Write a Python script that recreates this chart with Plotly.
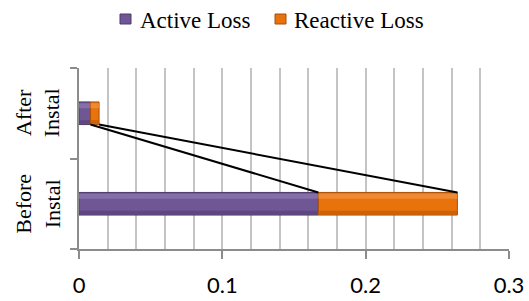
import plotly.graph_objects as go

categories = ["Before<br>Instal", "After<br>Instal"]
series_names = ["Active Loss", "Reactive Loss"]
active_loss = [0.167, 0.008]
reactive_loss = [0.097, 0.006]
x_ticks = [0, 0.1, 0.2, 0.3]
x_tick_labels = ["0", "0.1", "0.2", "0.3"]

ypos = [0, 1]
bw = 0.25
# (main, top highlight, bottom shade, outline)
purple = ("#6f5694", "#9580b6", "#5a4479", "#4e3a6b")
orange = ("#e8720c", "#f39a4c", "#c45f08", "#a9500a")

# plot area in pixels (for placing the custom legend)
W, H = 529, 301
ML, MR, MT, MB = 79, 20, 68, 52
PW, PH = W - ML - MR, H - MT - MB


def px2paper(px, py):
    return (px - ML) / PW, (H - MB - py) / PH


fig = go.Figure()
bases = [[0, 0], active_loss]
for vals, base, col, name in zip([active_loss, reactive_loss], bases, [purple, orange], series_names):
    fig.add_trace(go.Bar(
        y=ypos, x=vals, base=base, orientation="h", name=name, width=bw,
        marker=dict(color=col[0], line=dict(color=col[3], width=1)),
        showlegend=False,
    ))
    # bevel highlights
    fig.add_trace(go.Bar(
        y=ypos, x=vals, base=base, orientation="h", width=bw * 0.22, offset=bw * 0.22,
        marker=dict(color=col[1], line=dict(width=0), opacity=0.6),
        showlegend=False, hoverinfo="skip",
    ))
    fig.add_trace(go.Bar(
        y=ypos, x=vals, base=base, orientation="h", width=bw * 0.15, offset=-bw / 2 + 0.01,
        marker=dict(color=col[2], line=dict(width=0), opacity=0.8),
        showlegend=False, hoverinfo="skip",
    ))

# series lines (connect segment ends between categories)
cum_active = active_loss
cum_total = [a + r for a, r in zip(active_loss, reactive_loss)]
for cum in (cum_active, cum_total):
    fig.add_trace(go.Scatter(
        x=[cum[1], cum[0]], y=[ypos[1] - bw / 2, ypos[0] + bw / 2],
        mode="lines", line=dict(color="black", width=2),
        showlegend=False, hoverinfo="skip",
    ))

for y, lab in zip(ypos, categories):
    fig.add_annotation(
        x=0, xref="paper", xshift=-41, xanchor="center", yanchor="middle",
        y=y, yref="y", text=lab,
        textangle=-90, showarrow=False, align="center",
        font=dict(family="Liberation Serif", size=22, color="black"),
    )

# custom legend
legend_items = [(series_names[0], purple, 120, 138), (series_names[1], orange, 275, 292)]
for name, col, mx, tx in legend_items:
    x0, y0 = px2paper(mx, 24)
    x1, y1 = px2paper(mx + 11, 14)
    fig.add_shape(type="rect", xref="paper", yref="paper", x0=x0, x1=x1, y0=y0, y1=y1,
                  fillcolor=col[0], line=dict(color=col[3], width=1))
    ax, ay = px2paper(tx, 20)
    fig.add_annotation(x=ax, y=ay, xref="paper", yref="paper", xanchor="left", yanchor="middle",
                       text=name, showarrow=False,
                       font=dict(family="Liberation Serif", size=23, color="black"))

fig.update_layout(
    barmode="overlay",
    width=W, height=H,
    margin=dict(l=ML, r=MR, t=MT, b=MB),
    plot_bgcolor="white", paper_bgcolor="white",
    showlegend=False,
)
fig.update_xaxes(
    range=[0, 0.3], tickvals=x_ticks, ticktext=x_tick_labels,
    ticks="outside", ticklen=8, tickcolor="#8c8c8c", tickwidth=1.5,
    showgrid=True, gridcolor="#c4c4c4", gridwidth=1.5,
    minor=dict(dtick=0.02, showgrid=True, gridcolor="#c4c4c4", gridwidth=1.5),
    showline=True, linecolor="#8c8c8c", linewidth=1.5, zeroline=False,
    tickfont=dict(family="Lato", size=22, color="black"),
    ticklabelstandoff=8, automargin=False,
)
fig.update_yaxes(
    range=[-0.5, 1.5], tickvals=[-0.5, 0.5, 1.5], showticklabels=False,
    ticks="outside", ticklen=7, tickcolor="#8c8c8c", tickwidth=1.5,
    showgrid=False, showline=True, linecolor="#8c8c8c", linewidth=1.5,
    zeroline=False, automargin=False,
)

fig.write_html("out.html", config={"displayModeBar": False},
               post_script="document.body.style.margin='0';document.body.style.padding='0';")
